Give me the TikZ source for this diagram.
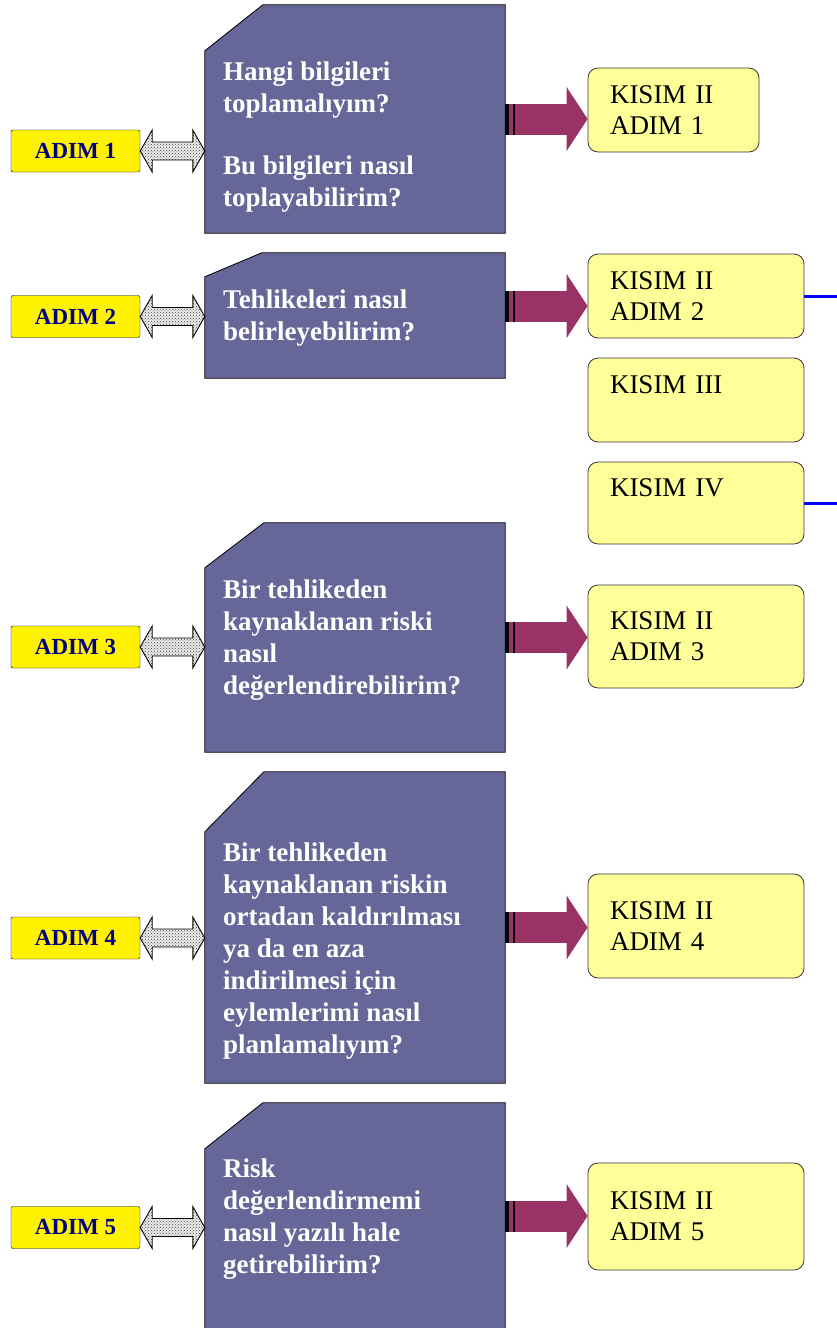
\documentclass[tikz,border=0pt]{standalone}
\usepackage{fontspec}
\setmainfont{Liberation Serif}
\usetikzlibrary{arrows.meta,patterns,decorations.markings,calc}

\definecolor{slate}{HTML}{666699}
\definecolor{wine}{HTML}{993366}
\definecolor{navyblue}{HTML}{000080}
\definecolor{paleyellow}{HTML}{FFFF99}

\tikzset{
  adim/.style={draw, fill=yellow, rounded corners=2pt, minimum width=129pt, minimum height=42pt, inner sep=0pt, text=navyblue, font=\bfseries\fontsize{23}{25}\selectfont},
  qbox/.style={minimum width=300pt, inner sep=0pt},
  qshape/.style={draw=black, fill=slate, line width=0.8pt},
  qtext/.style={anchor=west, inner sep=0pt, align=left, text=white, font=\bfseries\fontsize{27}{32}\selectfont},
  kisim/.style={draw=black!80, fill=paleyellow, rounded corners=10pt, line width=0.8pt, inner xsep=22pt, inner ysep=0pt, align=left, text width=172pt, minimum height=84pt, font=\fontsize{27}{31}\selectfont},
  dblarrow/.style={draw=black, line width=0.9pt, preaction={fill=gray!15}, pattern=crosshatch dots, pattern color=black!75,
    to path={let \p1=(\tikztostart), \p2=(\tikztotarget) in
      -- (\x1+12,\y1+21) -- (\x1+12,\y1+9) -- (\x2-12,\y1+9) -- (\x2-12,\y1+21) -- (\x2,\y1)
      -- (\x2-12,\y1-21) -- (\x2-12,\y1-9) -- (\x1+12,\y1-9) -- (\x1+12,\y1-21) -- cycle}},
  fatarrow/.style={draw=wine, line width=31pt, -{Triangle[length=21pt, width=64pt, line width=0pt]},
    postaction={decorate, decoration={markings, mark=at position 0pt with {
      \fill[black] (0pt,-15.5pt) rectangle (4pt,15.5pt);
      \fill[black] (7.5pt,-15.5pt) rectangle (10pt,15.5pt);}}}},
  blueline/.style={draw=blue, line width=3pt}
}

\begin{document}
\begin{tikzpicture}[x=1pt, y=-1pt]

\useasboundingbox (0,0) rectangle (837,1328);

% Define the step labels on the left
\node[adim] (adim1) at (75.5, 151) {ADIM 1};
\node[adim] (adim2) at (75.5, 316.5) {ADIM 2};
\node[adim] (adim3) at (75.5, 647) {ADIM 3};
\node[adim] (adim4) at (75.5, 938) {ADIM 4};
\node[adim] (adim5) at (75.5, 1227.5) {ADIM 5};

% Define the question boxes
\node[qbox, minimum height=228pt] (q1) at (355, 119) {};
\node[qbox, minimum height=125pt] (q2) at (355, 315.5) {};
\node[qbox, minimum height=229pt] (q3) at (355, 637.5) {};
\node[qbox, minimum height=311pt] (q4) at (355, 927.5) {};
\node[qbox, minimum height=226pt] (q5) at (355, 1216) {};

\filldraw[qshape] ([yshift=-46pt]q1.north west) -- ([xshift=58pt]q1.north west) -- (q1.north east) -- (q1.south east) -- (q1.south west) -- cycle;
\filldraw[qshape] ([yshift=-24pt]q2.north west) -- ([xshift=57pt]q2.north west) -- (q2.north east) -- (q2.south east) -- (q2.south west) -- cycle;
\filldraw[qshape] ([yshift=-45pt]q3.north west) -- ([xshift=59pt]q3.north west) -- (q3.north east) -- (q3.south east) -- (q3.south west) -- cycle;
\filldraw[qshape] ([yshift=-60pt]q4.north west) -- ([xshift=59pt]q4.north west) -- (q4.north east) -- (q4.south east) -- (q4.south west) -- cycle;
\filldraw[qshape] ([yshift=-46pt]q5.north west) -- ([xshift=58pt]q5.north west) -- (q5.north east) -- (q5.south east) -- (q5.south west) -- cycle;

\node[qtext] (t1) at (223, 137) {Hangi bilgileri\\toplamalıyım?\\[30pt]Bu bilgileri nasıl\\toplayabilirim?};
\node[qtext] (t2) at (223, 318) {Tehlikeleri nasıl\\belirleyebilirim?};
\node[qtext] (t3) at (223, 640) {Bir tehlikeden\\kaynaklanan riski\\nasıl\\değerlendirebilirim?};
\node[qtext] (t4) at (223, 951) {Bir tehlikeden\\kaynaklanan riskin\\ortadan kaldırılması\\ya da en aza\\indirilmesi için\\eylemlerimi nasıl\\planlamalıyım?};
\node[qtext] (t5) at (223, 1219) {Risk\\değerlendirmemi\\nasıl yazılı hale\\getirebilirim?};

% Define the part boxes on the right
\node[kisim, text width=127pt] (k1) at (673.5, 110) {KISIM II\\ADIM 1};
\node[kisim] (k2) at (696, 296) {KISIM II\\ADIM 2};
\node[kisim] (k3) at (696, 400) {KISIM III\\\mbox{}};
\node[kisim, minimum height=82pt] (k4) at (696, 503) {KISIM IV\\\mbox{}};
\node[kisim, minimum height=103pt] (k5) at (696, 636.5) {KISIM II\\ADIM 3};
\node[kisim, minimum height=104pt] (k6) at (696, 926) {KISIM II\\ADIM 4};
\node[kisim, minimum height=107pt] (k7) at (696, 1216.5) {KISIM II\\ADIM 5};

% Connect step labels to question boxes
\draw[dblarrow] (adim1.east) to (adim1.east -| q1.west);
\draw[dblarrow] (adim2.east) to (adim2.east -| q2.west);
\draw[dblarrow] (adim3.east) to (adim3.east -| q3.west);
\draw[dblarrow] (adim4.east) to (adim4.east -| q4.west);
\draw[dblarrow] (adim5.east) to (adim5.east -| q5.west);

% Connect question boxes to part boxes
\coordinate (a2) at (505, 306);
\draw[fatarrow] (q1.east) -- (q1.east -| k1.west);
\draw[fatarrow] (a2) -- (a2 -| k2.west);
\draw[fatarrow] (q3.east) -- (q3.east -| k5.west);
\draw[fatarrow] (q4.east) -- (q4.east -| k6.west);
\draw[fatarrow] (q5.east) -- (q5.east -| k7.west);

% Lines leaving the picture
\coordinate (e2) at (837, 296);
\coordinate (e4) at (837, 503);
\draw[blueline] (k2.east) -- (e2);
\draw[blueline] (k4.east) -- (e4);

\end{tikzpicture}
\end{document}
